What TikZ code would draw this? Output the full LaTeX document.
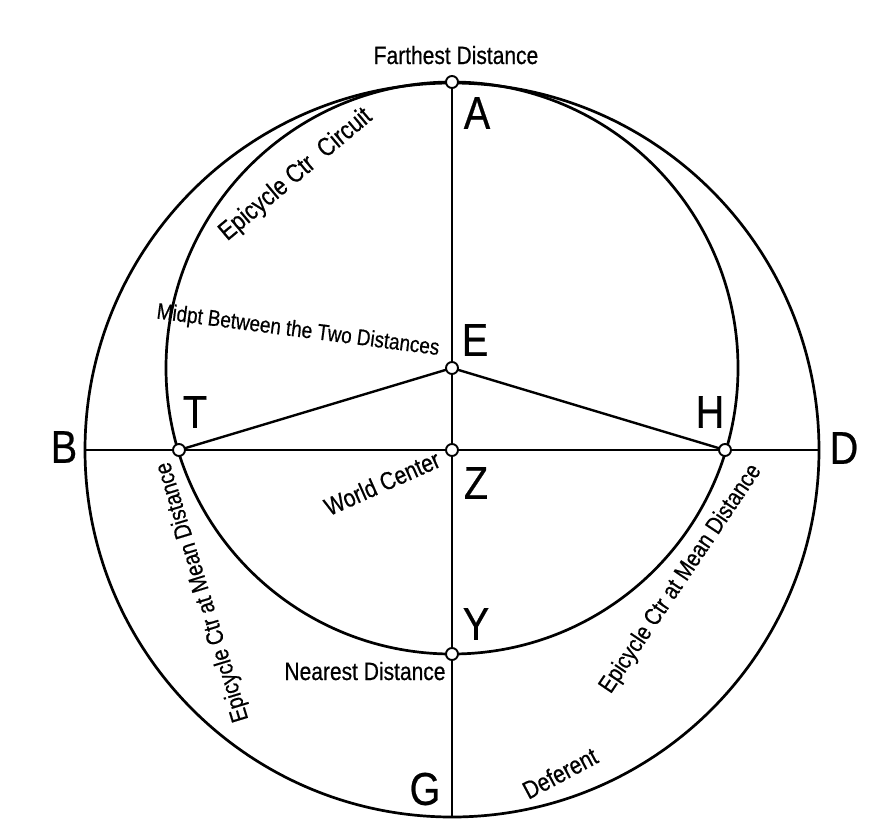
\documentclass[tikz,border=0pt]{standalone}
\usepackage{fontspec}
\newfontfamily\labfont[FakeStretch=0.84,FakeBold=0.5]{Liberation Sans}
\newfontfamily\letfont[FakeStretch=0.86,FakeBold=0.5]{Liberation Sans}
\begin{document}
\begin{tikzpicture}[x=1pt,y=-1pt,
  curve/.style={line width=2.7pt},
  ray/.style={line width=2.4pt},
  pdot/.style={circle,draw,fill=white,line width=1.9pt,inner sep=0pt,minimum size=12pt},
  lab/.style={font=\labfont\fontsize{25}{28}\selectfont,inner sep=0pt},
  smalllab/.style={font=\labfont\fontsize{24}{27}\selectfont,inner sep=0pt},
  letter/.style={font=\letfont\fontsize{46}{50}\selectfont,inner sep=0pt}]
\useasboundingbox (0,0) rectangle (886,823);
\fill[white] (0,0) rectangle (886,823);
% key points
\coordinate (cZ) at (452,450);
\coordinate (cE) at (452,368);
\coordinate (cA) at (452,82);
\coordinate (cG) at (452,817);
\coordinate (cB) at (86,450);
\coordinate (cD) at (818,450);
\coordinate (cT) at (179,450);
\coordinate (cH) at (725,450);
\coordinate (cY) at (452,654);
% circles
\draw[curve] (cZ) circle[radius=367];
\draw[curve] (cE) circle[radius=286];
% lines
\draw[ray] (cA) -- (cG);
\draw[ray] (cB) -- (cD);
\draw[ray] (cT) -- (cE);
\draw[ray] (cE) -- (cH);
% dots
\node[pdot] (dA) at (cA) {};
\node[pdot] (dE) at (cE) {};
\node[pdot] (dZ) at (cZ) {};
\node[pdot] (dT) at (cT) {};
\node[pdot] (dH) at (cH) {};
\node[pdot] (dY) at (cY) {};
% letters
\node[letter] (lA) at (477,113) {A};
\node[letter] (lE) at (475,340) {E};
\node[letter] (lT) at (195,412) {T};
\node[letter] (lH) at (710,412) {H};
\node[letter] (lB) at (64,447) {B};
\node[letter] (lD) at (844,448) {D};
\node[letter] (lZ) at (476,483) {Z};
\node[letter] (lY) at (476,624) {Y};
\node[letter] (lG) at (425,789) {G};
% labels
\node[lab,anchor=base] (tFar) at (456,64) {Farthest Distance};
\node[lab,anchor=base] (tNear) at (365,680) {Nearest Distance};
\node[lab,rotate=-7.4,font=\labfont\fontsize{22.5}{25}\selectfont] (tMid) at (298,331) {Midpt Between the Two Distances};
\node[lab,rotate=24] (tWorld) at (382,483) {World Center};
\node[lab,rotate=40,font=\labfont\fontsize{26}{28}\selectfont] (tCirc) at (296,175) {Epicycle Ctr\ \ Circuit};
\node[smalllab,rotate=107] (tMeanL) at (203,592) {Epicycle Ctr at Mean Distance};
\node[smalllab,rotate=56] (tMeanR) at (681,579) {Epicycle Ctr at Mean Distance};
\node[lab,rotate=28] (tDef) at (560,773) {Deferent};
\end{tikzpicture}
\end{document}
